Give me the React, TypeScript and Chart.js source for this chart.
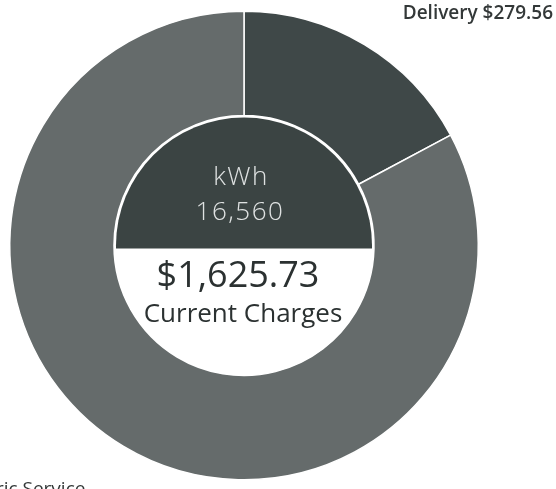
import React, { useEffect, useRef } from "react";
import { Chart, registerables } from "chart.js";

Chart.register(...registerables);

const segmentLabels = ["Delivery", "Electric Service"];
const segmentAmounts = [279.56, 1346.17];
const segmentAmountText = ["$279.56", "$1,346.17"];
const centerTopLabel = "kWh";
const centerTopValue = "16,560";
const centerAmount = "$1,625.73";
const centerAmountLabel = "Current Charges";

const FONT = "'Open Sans', sans-serif";

const centerPlugin = {
  id: "centerPlugin",
  afterDatasetsDraw(chart: any) {
    const meta = chart.getDatasetMeta(0);
    const arc = meta.data[0];
    if (!arc) return;
    const { x, y, innerRadius } = arc.getProps(["x", "y", "innerRadius"], true);
    const ctx = chart.ctx;
    ctx.save();
    ctx.beginPath();
    ctx.arc(x, y, innerRadius, 0, Math.PI * 2);
    ctx.fillStyle = "#ffffff";
    ctx.fill();
    ctx.save();
    ctx.beginPath();
    ctx.rect(x - innerRadius, y - innerRadius, innerRadius * 2, innerRadius + 3);
    ctx.clip();
    ctx.beginPath();
    ctx.arc(x, y, innerRadius - 2, 0, Math.PI * 2);
    ctx.fillStyle = "#3b4443";
    ctx.fill();
    ctx.restore();

    ctx.textAlign = "center";
    ctx.textBaseline = "alphabetic";
    ctx.fillStyle = "#dfe2e2";
    ctx.font = `300 26px ${FONT}`;
    (ctx as any).letterSpacing = "1.5px";
    ctx.fillText(centerTopLabel, x - 3, y - 61);
    ctx.fillText(centerTopValue, x - 4, y - 26);
    (ctx as any).letterSpacing = "0px";

    ctx.fillStyle = "#2b3131";
    ctx.font = `400 36px ${FONT}`;
    ctx.fillText(centerAmount, x - 6, y + 41);
    ctx.font = `400 26px ${FONT}`;
    ctx.fillText(centerAmountLabel, x - 1, y + 76);

    ctx.fillStyle = "#333838";
    ctx.font = `600 19px ${FONT}`;
    ctx.textAlign = "right";
    ctx.fillText(`${segmentLabels[0]} ${segmentAmountText[0]}`, 553, 19);
    ctx.font = `400 19px ${FONT}`;
    ctx.textAlign = "left";
    ctx.fillText(segmentLabels[1], -46, 495);
    ctx.restore();
  },
};

export default function App() {
  const ref = useRef<HTMLCanvasElement>(null);
  useEffect(() => {
    if (!ref.current) return;
    const chart = new Chart(ref.current, {
      type: "doughnut",
      data: {
        labels: segmentLabels,
        datasets: [
          {
            data: segmentAmounts,
            backgroundColor: ["#3f4848", "#656b6b"],
            borderColor: "#ffffff",
            borderWidth: 1.5,
          },
        ],
      },
      options: {
        responsive: false,
        animation: false,
        cutout: "55.5%",
        rotation: 0,
        layout: { padding: { left: 9, right: 77, top: 10, bottom: 8 } },
        plugins: {
          legend: { display: false },
          tooltip: { enabled: false },
        },
      },
      plugins: [centerPlugin],
    });
    return () => chart.destroy();
  }, []);
  return (
    <div style={{ position: "absolute", left: 0, top: 0, width: 556, height: 489, background: "#fff" }}>
      <canvas ref={ref} width={556} height={489} />
    </div>
  );
}
